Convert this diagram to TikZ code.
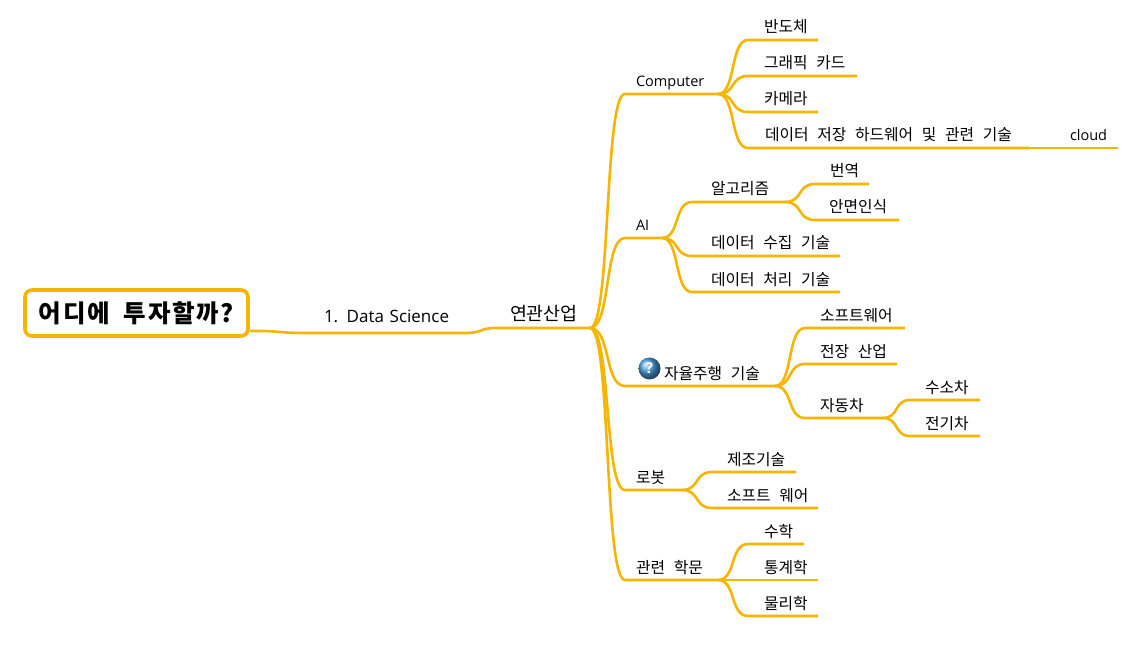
\documentclass[tikz,border=0pt]{standalone}
\usepackage{fontspec}
\usetikzlibrary{calc}
\setmainfont{Noto Sans CJK KR}
\newfontfamily\latinfont{Open Sans}
\definecolor{ink}{HTML}{000000}
\definecolor{amber}{HTML}{F6B500}
\definecolor{helpblue}{HTML}{4A9EE0}
\newcommand{\widegap}[1]{\spaceskip=.55em\relax\hspace*{#1}}
\tikzset{
  branch/.style={draw=amber,line width=2.6pt,line join=round,
    to path={.. controls ($(\tikztostart)!.6!(\tikztotarget |- \tikztostart)$)
      and ($(\tikztotarget)!.6!(\tikztostart |- \tikztotarget)$) .. (\tikztotarget)}},
  pad/.style={execute at begin node={\widegap{#1pt}}},
  topic/.style={anchor=south west,inner xsep=0pt,inner ysep=3pt,outer sep=0pt,
    align=left,text=ink,font=\fontsize{15.8}{18}\selectfont,
    text height=13pt,text depth=4pt,text width=#1pt}
}
\begin{document}
\begin{tikzpicture}[x=1pt,y=-1pt]
  \useasboundingbox[fill=white] (0,0) rectangle (1146,647);

  \node[draw=amber,line width=3.6pt,rounded corners=7pt,minimum width=223pt,
        minimum height=46pt,inner sep=0pt,text=ink,
        font=\fontsize{24.5}{28}\bfseries\selectfont] (root) at (136.5,313)
    {\addfontfeature{LetterSpace=7}\spaceskip=14pt 어디에 투자할까?};

  \node[topic=155,inner ysep=7pt,font=\fontsize{17}{20}\latinfont,
        execute at begin node=\hspace*{14pt}] (dsci) at (310,333) {1. Data Science};
  \node[topic=93,pad=13,inner ysep=4pt,font=\fontsize{18.4}{20}\selectfont] (ind) at (497,328) {연관산업};

  \node[topic=93,pad=11,font=\fontsize{14.5}{16}\latinfont] (comp) at (625,94) {Computer};
  \node[topic=70,pad=16] (semi) at (748,40) {반도체};
  \node[topic=109,pad=16] (gpu) at (748,76) {그래픽 카드};
  \node[topic=70,pad=16] (cam) at (748,112) {카메라};
  \node[topic=282,pad=17] (store) at (748,148) {데이터 저장 하드웨어 및 관련 기술};
  \node[topic=58,pad=10,font=\fontsize{14.5}{16}\latinfont] (cloud) at (1060,148) {cloud};

  \node[topic=37,pad=11,font=\fontsize{14.5}{16}\latinfont] (ai) at (625,238) {AI};
  \node[topic=93,pad=19] (algo) at (692,202) {알고리즘};
  \node[topic=54,pad=15] (trans) at (815,184) {번역};
  \node[topic=84,pad=14] (face) at (815,220) {안면인식};
  \node[topic=148,pad=19] (collect) at (692,256) {데이터 수집 기술};
  \node[topic=148,pad=19] (process) at (692,292) {데이터 처리 기술};

  \node[topic=150,pad=39] (auto) at (625,386) {자율주행 기술};
  \node[circle,ball color=helpblue,minimum size=22pt,inner sep=0pt,text=white,
        font=\fontsize{15}{16}\bfseries\latinfont] (help) at (649.5,368.5) {?};
  \node[topic=100,pad=15] (soft) at (805,328) {소프트웨어};
  \node[topic=92,pad=15] (parts) at (805,364) {전장 산업};
  \node[topic=78,pad=15] (car) at (805,418) {자동차};
  \node[topic=70,pad=15] (hydro) at (910,400) {수소차};
  \node[topic=70,pad=15] (ev) at (910,436) {전기차};

  \node[topic=57,pad=11] (robot) at (625,490) {로봇};
  \node[topic=84,pad=15] (manu) at (712,472) {제조기술};
  \node[topic=106,pad=15] (sware) at (712,508) {소프트 웨어};

  \node[topic=93,pad=11] (acad) at (625,580) {관련 학문};
  \node[topic=56,pad=16] (math) at (748,544) {수학};
  \node[topic=70,pad=16] (stat) at (748,580) {통계학};
  \node[topic=70,pad=16] (phys) at (748,616) {물리학};

  \draw[branch] (root.-9) to (dsci.south west) -- (dsci.south east);
  \foreach \from/\to in {dsci/ind,ind/comp,ind/ai,ind/auto,ind/robot,ind/acad,
      comp/semi,comp/gpu,comp/cam,comp/store,store/cloud,
      ai/algo,ai/collect,ai/process,algo/trans,algo/face,
      auto/soft,auto/parts,auto/car,car/hydro,car/ev,
      robot/manu,robot/sware,acad/math,acad/stat,acad/phys}
    \draw[branch] (\from.south east) to (\to.south west) -- (\to.south east);
\end{tikzpicture}
\end{document}
